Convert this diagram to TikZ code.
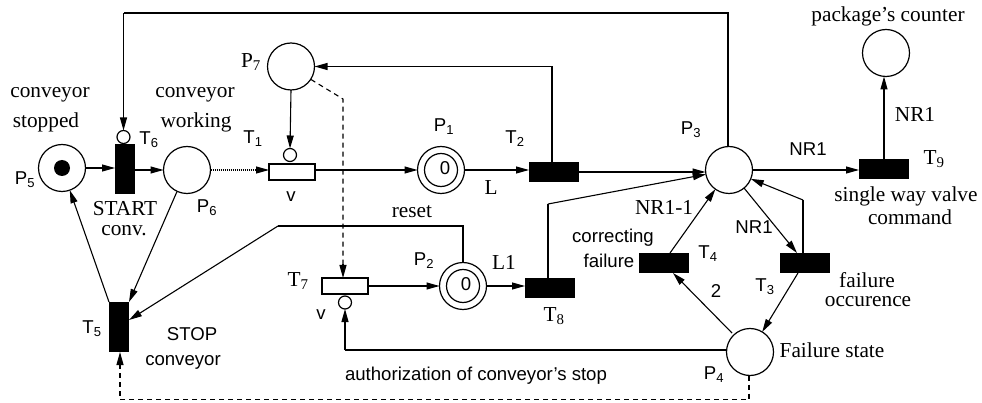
\documentclass[tikz,border=0pt]{standalone}
\usepackage{fontspec}
\setmainfont{Liberation Serif}
\setsansfont{Liberation Sans}
\usetikzlibrary{arrows.meta}
\tikzset{
 x=1pt,y=-1pt,
 place/.style={circle,draw,line width=1.2pt,minimum size=47pt,inner sep=0pt,outer sep=0pt},
 inner/.style={circle,draw,line width=1.2pt,minimum size=33pt,inner sep=0pt},
 inh/.style={circle,draw,line width=1.2pt,minimum size=13pt,inner sep=0pt,outer sep=0pt},
 hbar/.style={fill=black,draw=none,minimum width=50pt,minimum height=20pt,inner sep=0pt,outer sep=0pt},
 vbar/.style={fill=black,draw=none,minimum width=20pt,minimum height=50pt,inner sep=0pt,outer sep=0pt},
 timed/.style={draw,line width=1.8pt,fill=white,minimum width=46pt,minimum height=16pt,inner sep=0pt,outer sep=0pt},
 tip/.style={-{Triangle[length=13pt,width=7pt]}},
 arc/.style={line width=1.1pt,tip},
 line/.style={line width=1.1pt},
 dsh/.style={line width=1.1pt,dash pattern=on 5pt off 4pt},
 dot/.style={line width=1.1pt,dash pattern=on 1pt off 1pt},
 se/.style={font=\rmfamily\fontsize{21.3}{22}\selectfont,inner sep=0pt},
 sa/.style={font=\sffamily\fontsize{18.6}{19}\selectfont,inner sep=0pt},
}
\begin{document}
\begin{tikzpicture}
\useasboundingbox (0,0) rectangle (982,403);
\node[place] (P5) at (62,168) {};
\node[circle,fill=black,minimum size=16pt,inner sep=0pt] (tok) at (62,168) {};
\node[place] (P6) at (187,170) {};
\node[place] (P7) at (291,66.5) {};
\node[place] (P1) at (441,170) {};
\node[inner] (P1i) at (441,170) {};
\node[sa] (z1) at (445,168) {0};
\node[place] (P2) at (463,286) {};
\node[inner] (P2i) at (463,286) {};
\node[sa] (z2) at (466,284) {0};
\node[place] (P3) at (729,170) {};
\node[place] (P4) at (750,352) {};
\node[place] (P8) at (886,53) {};
\node[vbar] (T6) at (125,169) {};
\node[vbar] (T5) at (119,327) {};
\node[hbar] (T2) at (554,172) {};
\node[hbar] (T8) at (550,288) {};
\node[hbar] (T9) at (884,169) {};
\node[hbar] (T3) at (805,263) {};
\node[hbar] (T4) at (664,263) {};
\node[timed] (T1) at (292,172) {};
\node[timed] (T7) at (345,286) {};
\node[inh] (I6) at (123.5,137) {};
\node[inh] (I1) at (290,155) {};
\node[inh] (I7) at (345,302.5) {};
% corners
\coordinate (c1) at (123.5,13);
\coordinate (c2) at (728,13);
\coordinate (c3) at (552,66.5);
\coordinate (c4) at (463,226);
\coordinate (c5) at (278,226);
\coordinate (c6) at (548,204);
\coordinate (c7) at (803,200);
\coordinate (c8) at (345,350);
\coordinate (c9) at (749,399.5);
\coordinate (c10) at (120,399.5);
\coordinate (c11) at (343,99);
% arcs
\draw[arc] (P5.east) -- (T6.west|-P5.east);
\draw[arc] (T6.east|-P6.west) -- (P6.west);
\draw[dot,tip] (P6.east) -- (T1.west|-P6.east);
\draw[arc] (T1.east|-P1.west) -- (P1.west);
\draw[arc] (P1.east) -- (T2.west|-P1.east);
\draw[arc] (T2.east) -- (P3.west|-T2.east);
\draw[arc] (P3.east) -- (T9.west|-P3.east);
\draw[arc] (T9.north) -- (P8.south-|T9.north);
\draw[arc] (P7.south) -- (I1.north);
\draw[line] (P3.north-|c2) -- (c2) -- (c1);
\draw[arc] (c1) -- (I6.north);
\draw[line] (c3|-T2.north) -- (c3);
\draw[arc] (c3) -- (P7.east);
\draw[arc] (T7.east) -- (P2.west);
\draw[arc] (P2.east) -- (T8.west|-P2.east);
\draw[line] (P2.north) -- (c4) -- (c5);
\draw[arc] (c5) -- (129,320);
\draw[arc] (P6) ++(-10,21.5) -- (T5.north east);
\draw[arc] (109,302) -- (P5);
\draw[line] (c6|-T8.north) -- (c6);
\draw[arc] (c6) -- (P3);
\draw[line] (c7|-T3.north) -- (c7);
\draw[arc] (c7) -- (P3);
\draw[arc] (P3) ++(15,18) -- (797,253);
\draw[arc] (670,253) -- (P3);
\draw[arc] (798,273) -- (P4);
\draw[arc] (P4) ++(-18,-19) -- (673,273);
\draw[line] (P4.west|-c8) -- (c8);
\draw[arc] (c8) -- (I7.south);
\draw[dsh] (P4.south-|c9) -- (c9) -- (c10) -- (T5.south-|c10);
\draw[line,tip] (120,365) -- (T5.south-|c10);
\draw[dsh] (P7) ++(20,13) -- (c11) -- (343,264);
\draw[line,tip] (343,264) -- (T7.north-|c11);
% labels
\node[se] (l1) at (50,95) {conveyor};
\node[se] (l2) at (46,122) {stopped};
\node[se] (l3) at (195,95) {conveyor};
\node[se] (l4) at (196,122) {working};
\node[sa] (l5) at (25,180) {P\textsubscript{5}};
\node[sa] (l6) at (149,140) {T\textsubscript{6}};
\node[sa] (l7) at (253,139) {T\textsubscript{1}};
\node[se] (l8) at (251,62) {P\textsubscript{7}};
\node[sa] (l9) at (291,197) {v};
\node[se] (l10) at (125,209) {START};
\node[se] (l11) at (124,231) {conv.};
\node[sa] (l12) at (207,208) {P\textsubscript{6}};
\node[sa] (l13) at (92,329) {T\textsubscript{5}};
\node[sa] (l14) at (192,334) {STOP};
\node[sa] (l15) at (183,362) {conveyor};
\node[se] (l16) at (298,281) {T\textsubscript{7}};
\node[sa] (l17) at (321,315) {v};
\node[se] (l18) at (412,212) {reset};
\node[sa] (l19) at (444,127) {P\textsubscript{1}};
\node[sa] (l20) at (515,139) {T\textsubscript{2}};
\node[se] (l21) at (491,188) {L};
\node[sa] (l22) at (424,261) {P\textsubscript{2}};
\node[se] (l23) at (504,262) {L1};
\node[se] (l24) at (554,316) {T\textsubscript{8}};
\node[sa] (l25) at (691,130) {P\textsubscript{3}};
\node[sa] (l26) at (808,149) {NR1};
\node[se] (l27) at (915,114) {NR1};
\node[se] (l28) at (934,159) {T\textsubscript{9}};
\node[se] (l29) at (888,16) {package's counter};
\node[se] (l30) at (906,196) {single way valve};
\node[se] (l31) at (910,217) {command};
\node[se] (l32) at (664,207) {NR1-1};
\node[sa] (l33) at (613,238) {correcting};
\node[sa] (l34) at (609,261) {failure};
\node[sa] (l35) at (708,254) {T\textsubscript{4}};
\node[sa] (l36) at (754,227) {NR1};
\node[sa] (l37) at (716,291) {2};
\node[sa] (l39) at (765,287) {T\textsubscript{3}};
\node[se] (l40) at (867,280) {failure};
\node[se] (l41) at (868,302) {occurence};
\node[se] (l42) at (832,350) {Failure state};
\node[sa] (l43) at (714,375) {P\textsubscript{4}};
\node[sa] (l44) at (476,376) {authorization of conveyor's stop};
\end{tikzpicture}
\end{document}
